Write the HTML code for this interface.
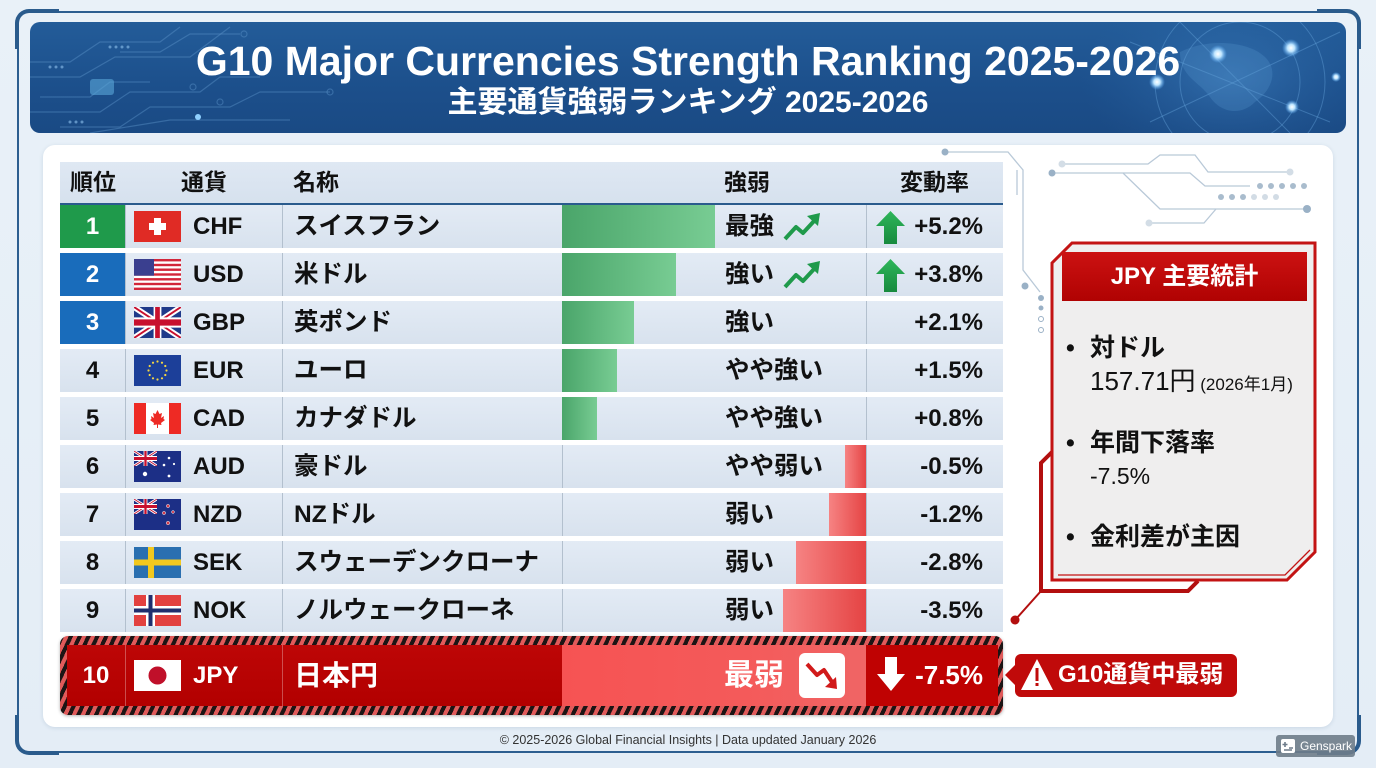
<!DOCTYPE html>
<html><head><meta charset="utf-8">
<style>
*{margin:0;padding:0;box-sizing:border-box}
body{width:1376px;height:768px;overflow:hidden;background:linear-gradient(180deg,#e9f1f8,#e4edf6);font-family:"Liberation Sans","Noto Sans CJK JP",sans-serif;position:relative;color:#111}
.abs{position:absolute}
.frame{left:17px;top:11px;width:1342px;height:742px;border:2px solid #2c5e90;border-radius:12px}
.corner{position:absolute;width:44px;height:40px;border-color:#2a5b8c;border-style:solid;border-width:0}
.banner{left:30px;top:22px;width:1316px;height:111px;border-radius:10px;overflow:hidden;background:linear-gradient(180deg,#235c99 0%,#1c4f8b 60%,#1a4a84 100%)}
.title{left:0;top:39px;width:1376px;text-align:center;color:#fff;font-weight:700;font-size:41px;line-height:44px;letter-spacing:0px}
.sub{left:0;top:86px;width:1376px;text-align:center;color:#fff;font-weight:700;font-size:30px;line-height:34px}
.panel{left:43px;top:145px;width:1290px;height:582px;background:#fff;border-radius:12px;box-shadow:0 1px 4px rgba(80,110,150,.18)}
.hdr{left:60px;top:162px;width:943px;height:43px;background:linear-gradient(180deg,#dfe8f3,#d6e1ee);border-bottom:2px solid #2a5b8d}
.hdr div{position:absolute;top:0;line-height:41px;font-weight:700;font-size:23px}
.row{position:absolute;left:60px;width:943px;height:43px;background:linear-gradient(180deg,#e3ebf5,#d8e2ee)}
.row>*{position:absolute}
.rk{left:0;top:0;width:65px;height:43px;text-align:center;line-height:43px;font-weight:700;font-size:24px}
.dv{top:0;width:1px;height:43px;background:#b3c0ce}
.flag{left:74px;top:6px}
.cd{left:133px;top:0;line-height:43px;font-weight:700;font-size:24px}
.nm{left:234px;top:0;line-height:43px;font-weight:700;font-size:24.5px}
.bar{top:0;height:43px}
.pos{left:502px;background:linear-gradient(90deg,#4aa56a,#78cc93)}
.neg{right:137px;background:linear-gradient(90deg,#f68383,#e54444)}
.st{left:665px;top:0;line-height:43px;font-weight:700;font-size:24.5px}
.ch{right:20px;top:0;line-height:43px;font-weight:700;font-size:24px;text-align:right}
.tr{left:722px;top:7px}
.ua{left:816px;top:6px}
.jrow{left:60px;top:636px;width:943px;height:79px;border-radius:8px;background:repeating-linear-gradient(115deg,#1c1414 0 4px,#e05a5a 4px 8px);box-shadow:0 1px 3px rgba(0,0,0,.3)}
.jin{position:absolute;left:7px;top:9px;width:931px;height:61px;background:#b70404;overflow:hidden}
.jin>*{position:absolute}
.wt{color:#fff;font-weight:700}
.stat{position:absolute;font-size:25px;line-height:30px}
</style></head><body>

<div class="abs frame"></div>
<div class="corner" style="left:15px;top:9px;border-top-width:4px;border-left-width:4px;border-top-left-radius:14px"></div>
<div class="corner" style="left:15px;top:715px;border-bottom-width:4px;border-left-width:4px;border-bottom-left-radius:14px"></div>
<div class="corner" style="left:1317px;top:9px;border-top-width:4px;border-right-width:4px;border-top-right-radius:14px"></div>
<div class="corner" style="left:1317px;top:715px;border-bottom-width:4px;border-right-width:4px;border-bottom-right-radius:14px"></div>

<div class="abs banner">
<svg width="1316" height="111" style="position:absolute;left:0;top:0">
<defs>
<radialGradient id="gl" cx="0.5" cy="0.5" r="0.5"><stop offset="0" stop-color="#4a8fd0" stop-opacity=".45"/><stop offset="1" stop-color="#2a66a8" stop-opacity="0"/></radialGradient>
<radialGradient id="dot" cx="0.5" cy="0.5" r="0.5"><stop offset="0" stop-color="#fff"/><stop offset=".4" stop-color="#bfe6ff"/><stop offset="1" stop-color="#5ab0ff" stop-opacity="0"/></radialGradient>
</defs>
<g stroke="#5b92c8" stroke-opacity=".45" fill="none" stroke-width="1.2">
<polyline points="0,40 40,40 70,20 130,20 150,5"/>
<polyline points="0,55 50,55 85,35 160,35 200,5"/>
<polyline points="10,75 60,75 80,60 120,60"/>
<polyline points="0,90 70,90 100,70 170,70 190,55 230,55"/>
<polyline points="30,105 90,105 120,85 200,85 230,70 300,70"/>
<polyline points="60,111 140,98 260,98"/>
<polyline points="90,30 130,30 160,12 210,12"/>
<circle cx="214" cy="12" r="3"/><circle cx="163" cy="65" r="3"/><circle cx="190" cy="80" r="3"/><circle cx="300" cy="70" r="3"/>
</g>
<g fill="#7fb2e0" opacity=".7"><circle cx="80" cy="25" r="1.5"/><circle cx="86" cy="25" r="1.5"/><circle cx="92" cy="25" r="1.5"/><circle cx="98" cy="25" r="1.5"/><circle cx="20" cy="45" r="1.5"/><circle cx="26" cy="45" r="1.5"/><circle cx="32" cy="45" r="1.5"/><circle cx="40" cy="100" r="1.5"/><circle cx="46" cy="100" r="1.5"/><circle cx="52" cy="100" r="1.5"/></g>
<rect x="60" y="57" width="24" height="16" rx="3" fill="#5aa6d8" opacity=".6"/>
<circle cx="168" cy="95" r="3" fill="#8fd0ff"/>
<ellipse cx="1200" cy="55" rx="150" ry="90" fill="url(#gl)"/>
<g stroke="#6aa8de" stroke-opacity=".4" fill="none" stroke-width="1">
<circle cx="1210" cy="60" r="85"/><circle cx="1210" cy="60" r="60"/>
<line x1="1100" y1="20" x2="1300" y2="100"/><line x1="1120" y1="100" x2="1310" y2="10"/><line x1="1150" y1="0" x2="1260" y2="111"/>
</g>
<path d="M1150,30 C1180,15 1220,20 1235,35 C1250,50 1240,70 1225,80 C1210,95 1190,90 1180,75 C1170,60 1150,55 1150,30Z" fill="#5d9bd5" opacity=".25"/>
<circle cx="1127" cy="60" r="8" fill="url(#dot)"/><circle cx="1188" cy="32" r="9" fill="url(#dot)"/><circle cx="1261" cy="26" r="9" fill="url(#dot)"/><circle cx="1262" cy="85" r="7" fill="url(#dot)"/><circle cx="1306" cy="55" r="5" fill="url(#dot)"/>
</svg>
</div>
<div class="abs title">G10 Major Currencies Strength Ranking 2025-2026</div>
<div class="abs sub">主要通貨強弱ランキング 2025-2026</div>

<div class="abs panel"></div>

<!-- decorations -->
<svg class="abs" width="1376" height="768" style="left:0;top:0">
<g stroke="#b9c9d8" stroke-width="1.3" fill="none">
<polyline points="945,152 1008,152 1023,170 1023,270 1040,292"/>
<polyline points="1017,170 1017,195"/>
<polyline points="1052,173 1123,173 1160,209 1307,209"/>
<polyline points="1062,164 1148,164 1160,155 1195,155 1208,172 1290,172"/>
<polyline points="1123,173 1190,173 1205,186 1250,186"/>
<polyline points="1149,223 1204,223 1216,209"/>
</g>
<g fill="#9ab1c6"><circle cx="945" cy="152" r="3.5"/><circle cx="1052" cy="173" r="3.5"/><circle cx="1307" cy="209" r="4"/><circle cx="1025" cy="286" r="3.5"/><circle cx="1041" cy="298" r="3"/><circle cx="1041" cy="308" r="2.5"/></g>
<g fill="#d3dde6"><circle cx="1062" cy="164" r="3.5"/><circle cx="1290" cy="172" r="3.5"/><circle cx="1149" cy="223" r="3.5"/></g>
<g fill="none" stroke="#9ab1c6"><circle cx="1041" cy="319" r="2.5"/><circle cx="1041" cy="330" r="2.5"/></g>
<g fill="#a9bccd"><circle cx="1260" cy="186" r="3"/><circle cx="1271" cy="186" r="3"/><circle cx="1282" cy="186" r="3"/><circle cx="1293" cy="186" r="3"/><circle cx="1304" cy="186" r="3"/><circle cx="1221" cy="197" r="3"/><circle cx="1232" cy="197" r="3"/><circle cx="1243" cy="197" r="3"/></g>
<g fill="#d2dce5"><circle cx="1254" cy="197" r="3"/><circle cx="1265" cy="197" r="3"/><circle cx="1276" cy="197" r="3"/></g>

<!-- stats box -->
<polyline points="1052,452 1041,463 1041,591 1188,591 1198,581" fill="none" stroke="#b30f0f" stroke-width="4"/>
<line x1="1041" y1="591" x2="1016" y2="619" stroke="#b30f0f" stroke-width="2"/>
<circle cx="1015" cy="620" r="4.5" fill="#b30f0f"/>
<polygon points="1072,243 1315,243 1315,552 1287,580 1052,580 1052,263" fill="#efeeee" stroke="#c31313" stroke-width="3"/>
<polyline points="1058,575 1285,575 1310,550" fill="none" stroke="#c31313" stroke-width="1.3"/>
<defs><linearGradient id="hr" x1="0" y1="0" x2="0" y2="1"><stop offset="0" stop-color="#cc1212"/><stop offset="1" stop-color="#b00202"/></linearGradient></defs>
<rect x="1062" y="252" width="245" height="49" fill="url(#hr)"/>

<!-- callout -->
<polygon points="1005,675 1016,664 1016,686" fill="#c00a0a"/>
<rect x="1015" y="654" width="222" height="43" rx="6" fill="#c00a0a"/>
<polygon points="1037,659 1053,690 1021,690" fill="#fff"/>
<rect x="1035.5" y="668" width="3" height="13" fill="#c00a0a"/><rect x="1035.5" y="683" width="3" height="3" fill="#c00a0a"/>
</svg>

<div class="abs wt" style="left:1062px;top:262px;width:245px;text-align:center;font-size:24px;line-height:30px">JPY 主要統計</div>
<div class="stat" style="left:1066px;top:333px;font-weight:700">•</div>
<div class="stat" style="left:1090px;top:333px;font-weight:700">対ドル</div>
<div class="stat" style="left:1090px;top:366px;font-size:26px">157.71円<span style="font-size:17px"> (2026年1月)</span></div>
<div class="stat" style="left:1066px;top:428px;font-weight:700">•</div>
<div class="stat" style="left:1090px;top:428px;font-weight:700">年間下落率</div>
<div class="stat" style="left:1090px;top:461px;font-size:23px">-7.5%</div>
<div class="stat" style="left:1066px;top:522px;font-weight:700">•</div>
<div class="stat" style="left:1090px;top:522px;font-weight:700">金利差が主因</div>

<div class="abs wt" style="left:1058px;top:660px;font-size:24px;line-height:30px">G10通貨中最弱</div>

<!-- table header -->
<div class="abs hdr">
<div style="left:10px">順位</div><div style="left:121px">通貨</div><div style="left:233px">名称</div><div style="left:664px">強弱</div><div style="left:840px">変動率</div>
</div>

<!-- rows -->
<div class="row" style="top:205px">
<div class="rk wt" style="background:#1f9a4b">1</div><div class="dv" style="left:65px"></div>
<svg class="flag" width="47" height="31"><rect width="47" height="31" fill="#e02b25"/><rect x="20" y="7" width="7" height="17" fill="#fff"/><rect x="15" y="12" width="17" height="7" fill="#fff"/></svg>
<div class="cd">CHF</div><div class="dv" style="left:222px"></div><div class="nm">スイスフラン</div>
<div class="bar pos" style="width:153px"></div>
<div class="st">最強</div>
<svg class="tr" width="40" height="30"><polyline points="3,27 14,15 21,21 33,8" fill="none" stroke="#1f9a4b" stroke-width="4" stroke-linejoin="round"/><polygon points="25,4 38,1 36,14" fill="#1f9a4b"/></svg>
<div class="dv" style="left:806px"></div>
<svg class="ua" width="30" height="33"><defs><linearGradient id="ug" x1="0" y1="0" x2="0" y2="1"><stop offset="0" stop-color="#2eb65a"/><stop offset="1" stop-color="#178a3e"/></linearGradient></defs><polygon points="0,15 14.5,0 29,15 21,15 21,33 8,33 8,15" fill="url(#ug)"/></svg>
<div class="ch">+5.2%</div>
</div>

<div class="row" style="top:253px">
<div class="rk wt" style="background:#196cbb">2</div><div class="dv" style="left:65px"></div>
<svg class="flag" width="47" height="31" viewBox="0 0 47 31" preserveAspectRatio="none"><rect width="47" height="31" fill="#fff"/><g fill="#d2263a"><rect y="0" width="47" height="2.4"/><rect y="4.8" width="47" height="2.4"/><rect y="9.5" width="47" height="2.4"/><rect y="14.3" width="47" height="2.4"/><rect y="19.1" width="47" height="2.4"/><rect y="23.8" width="47" height="2.4"/><rect y="28.6" width="47" height="2.4"/></g><rect width="20" height="16.7" fill="#3a3f8f"/></svg>
<div class="cd">USD</div><div class="dv" style="left:222px"></div><div class="nm">米ドル</div>
<div class="bar pos" style="width:114px"></div>
<div class="st">強い</div>
<svg class="tr" width="40" height="30"><polyline points="3,27 14,15 21,21 33,8" fill="none" stroke="#1f9a4b" stroke-width="4" stroke-linejoin="round"/><polygon points="25,4 38,1 36,14" fill="#1f9a4b"/></svg>
<div class="dv" style="left:806px"></div>
<svg class="ua" width="30" height="33"><polygon points="0,15 14.5,0 29,15 21,15 21,33 8,33 8,15" fill="url(#ug)"/></svg>
<div class="ch">+3.8%</div>
</div>

<div class="row" style="top:301px">
<div class="rk wt" style="background:#196cbb">3</div><div class="dv" style="left:65px"></div>
<svg class="flag" width="47" height="31" viewBox="0 0 60 30" preserveAspectRatio="none"><rect width="60" height="30" fill="#1f3a8a"/><path d="M0,0 L60,30 M60,0 L0,30" stroke="#fff" stroke-width="6"/><path d="M0,0 L60,30 M60,0 L0,30" stroke="#c8102e" stroke-width="2"/><path d="M30,0 v30 M0,15 h60" stroke="#fff" stroke-width="10"/><path d="M30,0 v30 M0,15 h60" stroke="#c8102e" stroke-width="6"/></svg>
<div class="cd">GBP</div><div class="dv" style="left:222px"></div><div class="nm">英ポンド</div>
<div class="bar pos" style="width:72px"></div>
<div class="st">強い</div>
<div class="dv" style="left:806px"></div>
<div class="ch">+2.1%</div>
</div>

<div class="row" style="top:349px">
<div class="rk">4</div><div class="dv" style="left:65px"></div>
<svg class="flag" width="47" height="31"><rect width="47" height="31" fill="#1c3f99"/><g fill="#f5d742"><circle cx="23.5" cy="6.5" r="1.1"/><circle cx="28" cy="7.7" r="1.1"/><circle cx="31.3" cy="11" r="1.1"/><circle cx="32.5" cy="15.5" r="1.1"/><circle cx="31.3" cy="20" r="1.1"/><circle cx="28" cy="23.3" r="1.1"/><circle cx="23.5" cy="24.5" r="1.1"/><circle cx="19" cy="23.3" r="1.1"/><circle cx="15.7" cy="20" r="1.1"/><circle cx="14.5" cy="15.5" r="1.1"/><circle cx="15.7" cy="11" r="1.1"/><circle cx="19" cy="7.7" r="1.1"/></g></svg>
<div class="cd">EUR</div><div class="dv" style="left:222px"></div><div class="nm">ユーロ</div>
<div class="bar pos" style="width:55px"></div>
<div class="st">やや強い</div>
<div class="dv" style="left:806px"></div>
<div class="ch">+1.5%</div>
</div>

<div class="row" style="top:397px">
<div class="rk">5</div><div class="dv" style="left:65px"></div>
<svg class="flag" width="47" height="31"><rect width="47" height="31" fill="#fff"/><rect width="12" height="31" fill="#ee2a24"/><rect x="35" width="12" height="31" fill="#ee2a24"/><polygon points="23.5,7 25.5,11 28,10 27,15 30,13 29.5,16 31,17 27,20 27.5,22 24,21.5 24,25 23,25 23,21.5 19.5,22 20,20 16,17 17.5,16 17,13 20,15 19,10 21.5,11" fill="#ee2a24"/></svg>
<div class="cd">CAD</div><div class="dv" style="left:222px"></div><div class="nm">カナダドル</div>
<div class="bar pos" style="width:35px"></div>
<div class="st">やや強い</div>
<div class="dv" style="left:806px"></div>
<div class="ch">+0.8%</div>
</div>

<div class="row" style="top:445px">
<div class="rk">6</div><div class="dv" style="left:65px"></div>
<svg class="flag" width="47" height="31"><rect width="47" height="31" fill="#1c2f86"/><svg width="23" height="15" viewBox="0 0 60 30" preserveAspectRatio="none"><rect width="60" height="30" fill="#1c2f86"/><path d="M0,0 L60,30 M60,0 L0,30" stroke="#fff" stroke-width="6"/><path d="M0,0 L60,30 M60,0 L0,30" stroke="#c8102e" stroke-width="2"/><path d="M30,0 v30 M0,15 h60" stroke="#fff" stroke-width="10"/><path d="M30,0 v30 M0,15 h60" stroke="#c8102e" stroke-width="6"/></svg><g fill="#fff"><circle cx="11" cy="23" r="2.2"/><circle cx="35" cy="7" r="1.3"/><circle cx="30" cy="14" r="1.3"/><circle cx="40" cy="13" r="1.1"/><circle cx="35" cy="25" r="1.4"/></g></svg>
<div class="cd">AUD</div><div class="dv" style="left:222px"></div><div class="nm">豪ドル</div>
<div class="dv" style="left:502px"></div>
<div class="bar neg" style="width:21px"></div>
<div class="st">やや弱い</div>
<div class="dv" style="left:806px"></div>
<div class="ch">-0.5%</div>
</div>

<div class="row" style="top:493px">
<div class="rk">7</div><div class="dv" style="left:65px"></div>
<svg class="flag" width="47" height="31"><rect width="47" height="31" fill="#1c2f86"/><svg width="23" height="15" viewBox="0 0 60 30" preserveAspectRatio="none"><rect width="60" height="30" fill="#1c2f86"/><path d="M0,0 L60,30 M60,0 L0,30" stroke="#fff" stroke-width="6"/><path d="M0,0 L60,30 M60,0 L0,30" stroke="#c8102e" stroke-width="2"/><path d="M30,0 v30 M0,15 h60" stroke="#fff" stroke-width="10"/><path d="M30,0 v30 M0,15 h60" stroke="#c8102e" stroke-width="6"/></svg><g fill="#d23a4a" stroke="#fff" stroke-width=".5"><circle cx="34" cy="7" r="1.6"/><circle cx="30" cy="14" r="1.6"/><circle cx="39" cy="13" r="1.4"/><circle cx="34" cy="24" r="1.7"/></g></svg>
<div class="cd">NZD</div><div class="dv" style="left:222px"></div><div class="nm">NZドル</div>
<div class="dv" style="left:502px"></div>
<div class="bar neg" style="width:37px"></div>
<div class="st">弱い</div>
<div class="dv" style="left:806px"></div>
<div class="ch">-1.2%</div>
</div>

<div class="row" style="top:541px">
<div class="rk">8</div><div class="dv" style="left:65px"></div>
<svg class="flag" width="47" height="31"><rect width="47" height="31" fill="#2a6fb0"/><rect x="14" width="6" height="31" fill="#f2c81e"/><rect y="12.5" width="47" height="6" fill="#f2c81e"/></svg>
<div class="cd">SEK</div><div class="dv" style="left:222px"></div><div class="nm">スウェーデンクローナ</div>
<div class="dv" style="left:502px"></div>
<div class="bar neg" style="width:70px"></div>
<div class="st">弱い</div>
<div class="dv" style="left:806px"></div>
<div class="ch">-2.8%</div>
</div>

<div class="row" style="top:589px">
<div class="rk">9</div><div class="dv" style="left:65px"></div>
<svg class="flag" width="47" height="31"><rect width="47" height="31" fill="#e2413f"/><rect x="12" width="9" height="31" fill="#fff"/><rect y="11" width="47" height="9" fill="#fff"/><rect x="14.5" width="4" height="31" fill="#1f2e6e"/><rect y="13.5" width="47" height="4" fill="#1f2e6e"/></svg>
<div class="cd">NOK</div><div class="dv" style="left:222px"></div><div class="nm">ノルウェークローネ</div>
<div class="dv" style="left:502px"></div>
<div class="bar neg" style="width:83px"></div>
<div class="st">弱い</div>
<div class="dv" style="left:806px"></div>
<div class="ch">-3.5%</div>
</div>

<!-- JPY row -->
<div class="abs jrow">
<div class="jin">
<div style="left:0;top:0;width:495px;height:61px;background:linear-gradient(180deg,#bd0606,#b20000)"></div>
<div class="wt" style="left:0;top:0;width:58px;text-align:center;line-height:61px;font-size:24px">10</div>
<div style="left:58px;top:0;width:1px;height:61px;background:rgba(255,255,255,.3)"></div>
<svg style="left:67px;top:15px" width="47" height="31"><rect width="47" height="31" fill="#fff"/><circle cx="23.5" cy="15.5" r="9" fill="#c0102a"/></svg>
<div class="wt" style="left:126px;top:0;line-height:61px;font-size:24px">JPY</div>
<div style="left:215px;top:0;width:1px;height:61px;background:rgba(255,255,255,.3)"></div>
<div class="wt" style="left:227px;top:0;line-height:61px;font-size:28px">日本円</div>
<div style="left:495px;top:0;width:304px;height:61px;background:linear-gradient(90deg,#f65353,#f45a5a 60%,#f06565)"></div>
<div class="wt" style="left:657px;top:0;line-height:61px;font-size:30px">最弱</div>
<svg style="left:732px;top:8px" width="46" height="45"><rect width="46" height="45" rx="6" fill="#fff"/><polyline points="8,11 18,22 25,17 33,29" fill="none" stroke="#d11a1a" stroke-width="4" stroke-linejoin="round"/><polygon points="26,34 38,36 37,24" fill="#d11a1a"/></svg>
<div style="left:799px;top:0;width:132px;height:61px;background:#bf0202"></div>
<svg style="left:809px;top:12px" width="30" height="34"><polygon points="9,0 21,0 21,17 29,17 15,34 1,17 9,17" fill="#fff"/></svg>
<div class="wt" style="right:15px;top:0;line-height:61px;font-size:26px">-7.5%</div>
</div>
</div>

<div class="abs" style="left:0;top:731px;width:1376px;text-align:center;font-size:12.5px;line-height:18px;color:#333">© 2025-2026 Global Financial Insights | Data updated January 2026</div>

<div class="abs" style="left:1276px;top:735px;width:79px;height:22px;background:rgba(110,124,138,.9);border-radius:3px;color:#fff;font-size:12px;line-height:22px;padding-left:24px">Genspark</div>
<svg class="abs" style="left:1281px;top:739px" width="14" height="14"><rect width="14" height="14" rx="2" fill="#fff"/><path d="M4,3v5M1.5,5.5h5M8,9h4M3,11h8" stroke="#6e7c8a" stroke-width="1.6"/></svg>

</body></html>
